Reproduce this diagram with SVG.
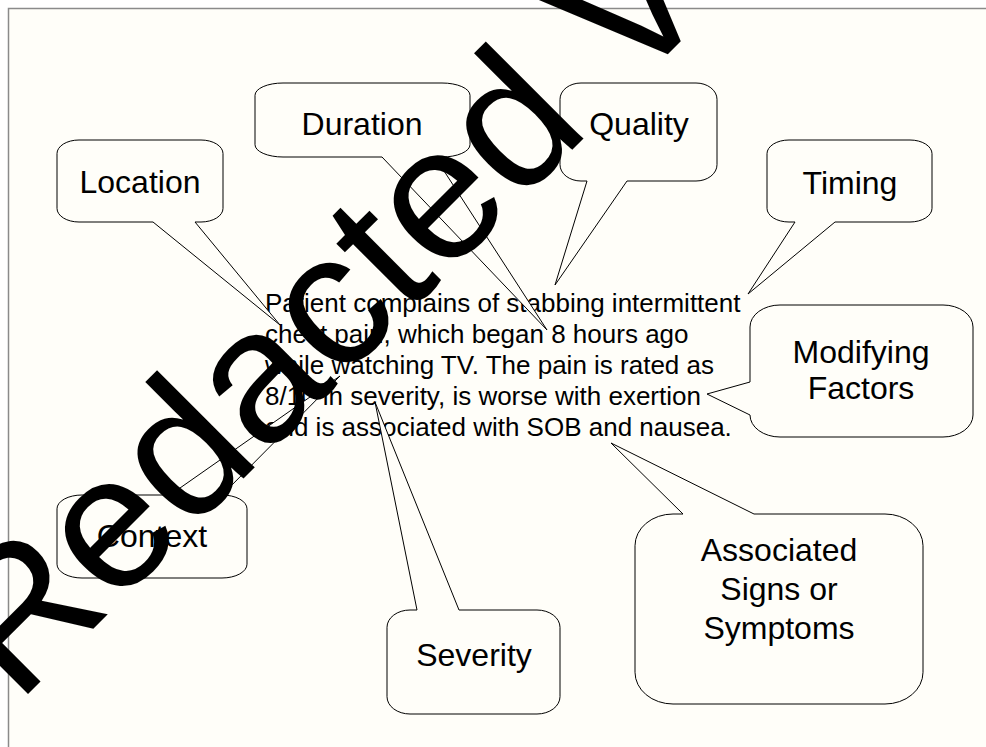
<svg xmlns="http://www.w3.org/2000/svg" width="986" height="747" viewBox="0 0 986 747">
<style>
.co{fill:#fffef9;stroke:#000;stroke-width:1}
.lb{font-family:"Liberation Sans",Arial,sans-serif;font-size:32px;text-anchor:middle;fill:#000}
.body{font-family:"Liberation Sans",Arial,sans-serif;font-size:26px;fill:#000}
.wm{font-family:"Liberation Sans",Arial,sans-serif;font-size:190px;fill:#000}
</style>
<rect x="0" y="0" width="986" height="747" fill="#ffffff"/>
<rect x="8" y="8" width="978" height="739" fill="#fffef9"/>
<path d="M8.5,747 V8.5 H986" fill="none" stroke="#8a8a8a" stroke-width="1.5"/>
<g id="main-text" class="body">
<text x="265" y="312">Patient complains of stabbing intermittent</text>
<text x="265" y="343">chest pain, which began 8 hours ago</text>
<text x="265" y="374">while watching TV. The pain is rated as</text>
<text x="265" y="405">8/10 in severity, is worse with exertion</text>
<text x="265" y="436">and is associated with SOB and nausea.</text>
</g>
<g id="connectors"></g>
<g id="location">
<path class="co" d="M79,140 H201 A22,13.6 0 0 1 223,153.6 V208.4 A22,13.6 0 0 1 201,222 H195 L280,325 L153,222 H79 A22,13.6 0 0 1 57,208.4 V153.6 A22,13.6 0 0 1 79,140 Z"/>
<text class="lb" x="140" y="193">Location</text>
</g>
<g id="duration">
<path class="co" d="M283,83 H442 A28,12.3 0 0 1 470,95.3 V144.7 A28,12.3 0 0 1 442,157 H435 L547,330 L382,157 H283 A28,12.3 0 0 1 255,144.7 V95.3 A28,12.3 0 0 1 283,83 Z"/>
<text class="lb" x="362" y="135">Duration</text>
</g>
<g id="quality">
<path class="co" d="M581,83 H696 A21,16.3 0 0 1 717,99.3 V164.7 A21,16.3 0 0 1 696,181 H627 L555,285 L587,181 H581 A21,16.3 0 0 1 560,164.7 V99.3 A21,16.3 0 0 1 581,83 Z"/>
<text class="lb" x="639" y="135">Quality</text>
</g>
<g id="timing">
<path class="co" d="M789,140 H910 A22,13.7 0 0 1 932,153.7 V208.3 A22,13.7 0 0 1 910,222 H835 L748,294 L795,222 H789 A22,13.7 0 0 1 767,208.3 V153.7 A22,13.7 0 0 1 789,140 Z"/>
<text class="lb" x="850" y="194">Timing</text>
</g>
<g id="modifying-factors">
<path class="co" d="M780,305 H943 A30,22 0 0 1 973,327 V415 A30,22 0 0 1 943,437 H780 A30,22 0 0 1 750,415 L707,394 L750,382 V327 A30,22 0 0 1 780,305 Z"/>
<text class="lb" x="861" y="363">Modifying</text>
<text class="lb" x="861" y="399">Factors</text>
</g>
<g id="context">
<path class="co" d="M82,495 H170 L340,376 L222,495 A25,13.8 0 0 1 247,508.8 V564.2 A25,13.8 0 0 1 222,578 H82 A25,13.8 0 0 1 57,564.2 V508.8 A25,13.8 0 0 1 82,495 Z"/>
<text class="lb" x="152" y="547">Context</text>
</g>
<g id="severity">
<path class="co" d="M410,610 H417 L375,402 L459,610 H537 A23,17.3 0 0 1 560,627.3 V696.7 A23,17.3 0 0 1 537,714 H410 A23,17.3 0 0 1 387,696.7 V627.3 A23,17.3 0 0 1 410,610 Z"/>
<text class="lb" x="474" y="666">Severity</text>
</g>
<g id="associated">
<path class="co" d="M673,514 H683 L611,443 L754,514 H885 A38,31.7 0 0 1 923,545.7 V672.3 A38,31.7 0 0 1 885,704 H673 A38,31.7 0 0 1 635,672.3 V545.7 A38,31.7 0 0 1 673,514 Z"/>
<text class="lb" x="779" y="561">Associated</text>
<text class="lb" x="779" y="600">Signs or</text>
<text class="lb" x="779" y="639">Symptoms</text>
</g>
<g id="watermark">
<text class="wm" transform="translate(17,705) rotate(-45)">Redacted V</text>
</g>
</svg>
